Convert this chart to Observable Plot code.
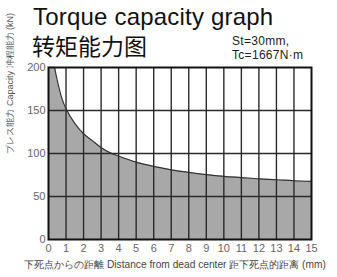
<!DOCTYPE html>
<html><head><meta charset="utf-8">
<script src="https://cdn.jsdelivr.net/npm/d3@7"></script>
<script src="https://cdn.jsdelivr.net/npm/@observablehq/plot@0.6"></script>
<style>
body{margin:0;background:#fff;}
#wrap{position:relative;width:337px;height:277px;overflow:hidden;background:#fff;}
.t{position:absolute;white-space:nowrap;color:#111;}
</style></head>
<body><div id="wrap">
<div class="t" style="left:33px;top:3px;font:24px 'Liberation Sans',Arial,sans-serif;letter-spacing:0.2px;">Torque capacity graph</div>
<div class="t" style="left:32px;top:32px;font:23px 'Noto Sans CJK SC',sans-serif;line-height:26px;">转矩能力图</div>
<div class="t" style="left:232px;top:35px;font:12px 'Liberation Sans',Arial,sans-serif;line-height:13.5px;color:#222;letter-spacing:0.3px;">St=30mm,<br>Tc=1667N·m</div>
</div>
<script>
const distance = [0, 0.35, 0.5, 0.75, 1, 1.5, 2, 2.5, 3, 3.5, 4, 5, 6, 7, 8, 9, 10, 11, 12, 13, 14, 15];
const capacity = [200, 200, 185, 165, 152, 135, 123, 115, 107, 101, 97, 90, 85, 81, 78, 75.5, 73.5, 72, 70.5, 69.5, 68.3, 67.5];
const xTicks = [0,1,2,3,4,5,6,7,8,9,10,11,12,13,14,15];
const yTicks = [0,50,100,150,200];
const xGrid = [1,2,3,4,5,6,7,8,9,10,11,12,13,14];
const yGrid = [50,100,150];
const yLabel = "プレス能力 Capacity 冲程能力 (kN)";
const xLabel = "下死点からの距離 Distance from dead center 距下死点的距离 (mm)";

const data = distance.map((d,i)=>({x:d, y:capacity[i]}));
const curveData = data.slice(1);

const chart = Plot.plot({
  width: 337, height: 277,
  marginLeft: 48, marginRight: 26, marginTop: 67, marginBottom: 38,
  style: {fontFamily: "'Liberation Sans Narrow','Liberation Sans',Arial,sans-serif", fontSize: "11px", color: "#555", background: "transparent"},
  x: {domain: [0, 15]},
  y: {domain: [0, 200]},
  marks: [
    Plot.areaY(data, {x: "x", y: "y", fill: "#a8a8a8", curve: "catmull-rom"}),
    Plot.ruleX(xGrid, {stroke: "#2a2a2a", strokeWidth: 1.4}),
    Plot.ruleY(yGrid, {stroke: "#2a2a2a", strokeWidth: 1.4}),
    Plot.lineY(curveData, {x: "x", y: "y", stroke: "#333", strokeWidth: 1.2, curve: "catmull-rom"}),
    Plot.frame({stroke: "#111", strokeWidth: 2}),
    Plot.axisX(xTicks, {tickSize: 0, tickPadding: 5, fontSize: 11, fill: "#666", label: null}),
    Plot.axisY(yTicks, {tickSize: 0, tickPadding: 3, fontSize: 11, fill: "#666", label: null}),
    Plot.text([xLabel], {frameAnchor: "bottom", dy: 28, dx: -5, fontSize: 10.2, fill: "#444"}),
    Plot.text([yLabel], {frameAnchor: "left", rotate: -90, dx: -38, fontSize: 9, fill: "#555"})
  ]
});
chart.style.position = "absolute";
chart.style.left = "0px";
chart.style.top = "0px";
document.getElementById("wrap").appendChild(chart);
</script>
</body></html>
